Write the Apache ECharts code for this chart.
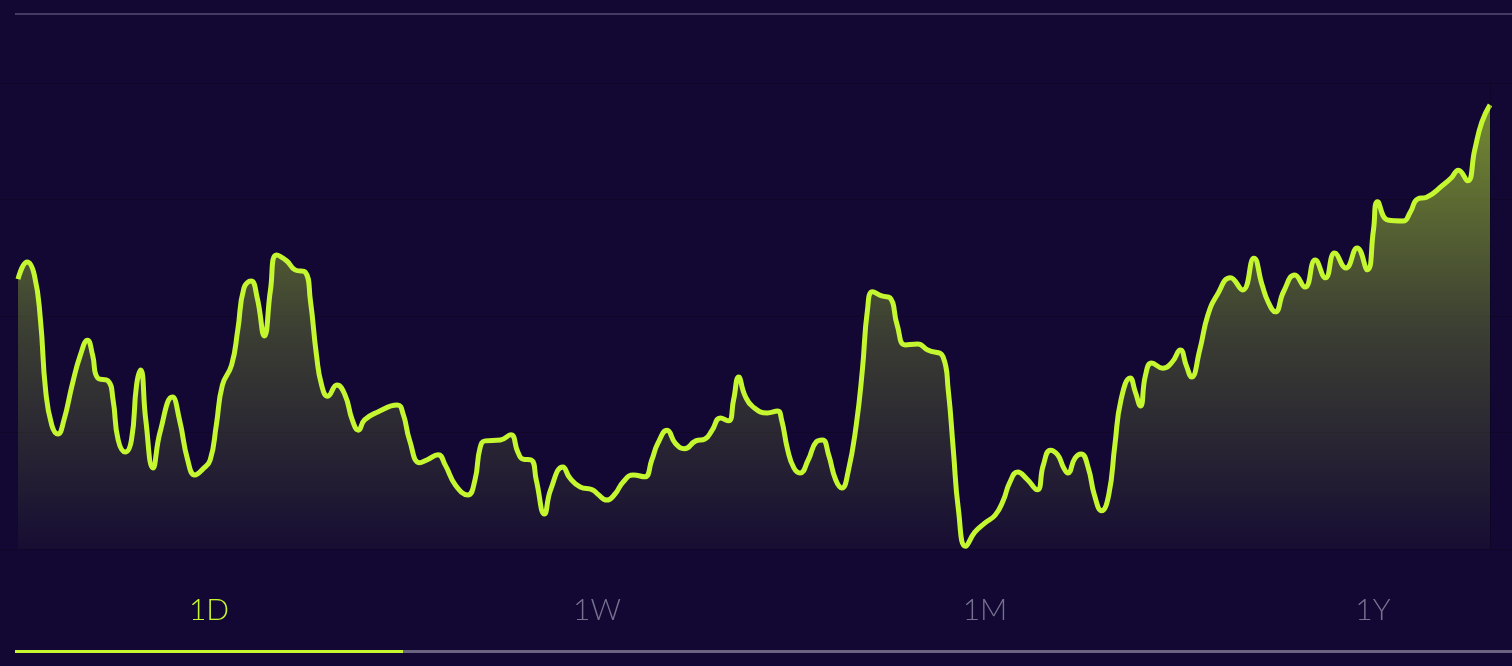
<!DOCTYPE html>
<html>
<head>
<meta charset="utf-8">
<script src="https://cdn.jsdelivr.net/npm/echarts@6/dist/echarts.min.js"></script>
<style>
  html, body { margin: 0; padding: 0; background: #130833; }
  #chart { width: 1512px; height: 666px; }
</style>
</head>
<body>
<div id="chart"></div>
<script>
// time of day in minutes
const times = [0,9,16,22,27,33,39,45,53,61,68,73,78,88,93,98,105,111,116,120,125,132,139,151,158,166,173,181,188,194,200,209,215,221,228,234,241,247,253,263,271,281,286,292,297,303,312,320,327,333,339,352,371,377,383,393,400,411,418,428,440,447,452,457,472,482,489,494,502,507,515,521,533,540,550,562,567,576,584,592,602,613,620,626,635,643,652,663,672,679,687,695,700,705,711,719,733,743,747,753,759,765,773,781,787,793,800,806,812,820,826,831,836,845,853,860,868,880,890,905,910,915,920,927,936,946,956,964,970,978,987,997,1003,1010,1017,1023,1027,1034,1040,1047,1053,1060,1067,1073,1079,1088,1093,1098,1103,1109,1120,1129,1137,1143,1148,1156,1164,1173,1186,1198,1209,1217,1223,1230,1238,1249,1259,1269,1279,1288,1299,1310,1320,1326,1330,1340,1355,1362,1369,1378,1394,1402,1409,1418,1425,1432,1440];
const values = [57.9,61.6,58.8,49.1,34.1,26.6,24.7,27.7,35.2,41.6,44.8,41.6,36.7,36.1,32.0,23.4,20.8,23.4,35.2,38.4,27.7,17.4,25.1,32.6,27.7,19.1,15.9,17.2,19.1,26.6,35.2,39.5,47.0,56.0,57.5,53.9,45.7,55.6,63.1,61.8,59.9,59.4,53.4,41.6,35.2,32.8,35.2,33.0,27.7,25.5,27.7,29.4,30.9,28.8,23.4,18.5,19.1,20.2,18.0,13.7,11.6,14.8,21.7,23.2,23.4,24.5,20.8,19.3,19.1,14.8,7.5,12.7,17.6,15.2,13.3,12.7,11.8,10.5,11.8,14.4,15.9,15.5,19.1,22.7,25.5,22.7,21.5,23.2,23.6,25.5,28.1,27.5,32.0,36.9,33.0,30.5,29.2,29.6,27.7,21.2,17.4,16.3,19.1,23.0,23.4,20.2,14.8,13.1,16.5,26.6,38.4,51.3,55.2,54.3,53.9,48.1,43.8,44.0,42.7,41.2,34.1,21.2,8.4,0.6,3.6,5.6,7.3,10.5,14.2,16.5,15.0,12.7,18.0,21.2,20.2,17.4,16.3,19.5,20.4,17.4,11.6,8.2,11.6,22.3,32.0,36.7,33.7,30.7,37.3,39.9,38.8,40.1,42.7,39.3,36.9,42.7,50.2,54.5,58.2,55.6,62.4,56.7,53.0,50.9,55.2,58.8,56.2,62.0,58.2,63.5,60.3,64.6,59.9,68.5,74.5,70.6,70.4,72.3,75.1,75.5,78.1,79.6,81.3,79.0,85.6,91.6,95.3];
const tabLabels = ['1D', '1W', '1M', '1Y'];
const activeTab = 0;

const LIME = '#c5f731';
const BG = '#130833';

const seriesData = times.map((t, i) => [t, values[i]]);

const chart = echarts.init(document.getElementById('chart'), null, { renderer: 'canvas' });

const TAB_W = 388, TAB_X0 = 15;
const graphics = [
  { type: 'rect', shape: { x: 15, y: 13, width: 1497, height: 2 }, style: { fill: '#463b63' }, silent: true },
  { type: 'rect', shape: { x: 15, y: 650, width: 1497, height: 3 }, style: { fill: '#6a6480' }, silent: true },
  { type: 'rect', shape: { x: TAB_X0 + activeTab * TAB_W, y: 650, width: TAB_W, height: 3 }, style: { fill: LIME }, silent: true }
];
tabLabels.forEach((lab, i) => {
  graphics.push({
    type: 'text',
    x: TAB_X0 + TAB_W * i + TAB_W / 2,
    y: 610,
    style: {
      text: lab,
      fill: i === activeTab ? LIME : '#75718f',
      font: '300 30px Lato',
      textAlign: 'center',
      textVerticalAlign: 'middle'
    },
    silent: true
  });
});

chart.setOption({
  backgroundColor: BG,
  animation: false,
  grid: { left: 0, right: 0, top: 83, bottom: 117 },
  xAxis: {
    type: 'value',
    min: -17.6,
    max: 1461.5,
    show: false
  },
  yAxis: {
    type: 'value',
    min: 0,
    max: 100,
    interval: 25,
    axisLine: { show: false },
    axisTick: { show: false },
    axisLabel: { show: false },
    splitLine: { show: true, lineStyle: { color: 'rgba(0,0,0,0.2)', width: 1 } }
  },
  series: [{
    type: 'line',
    data: seriesData,
    smooth: 0.5,
    symbol: 'none',
    lineStyle: { color: LIME, width: 5 },
    areaStyle: {
      color: new echarts.graphic.LinearGradient(0, 0, 0, 1, [
        { offset: 0, color: 'rgba(197,247,49,0.78)' },
        { offset: 0.5, color: 'rgba(197,247,49,0.33)' },
        { offset: 1, color: 'rgba(197,247,49,0.03)' }
      ])
    },
    markLine: {
      silent: true,
      symbol: 'none',
      label: { show: false },
      lineStyle: { color: 'rgba(0,0,0,0.25)', width: 1, type: 'solid' },
      data: [{ xAxis: 1440 }]
    }
  }],
  graphic: graphics
});
</script>
</body>
</html>
